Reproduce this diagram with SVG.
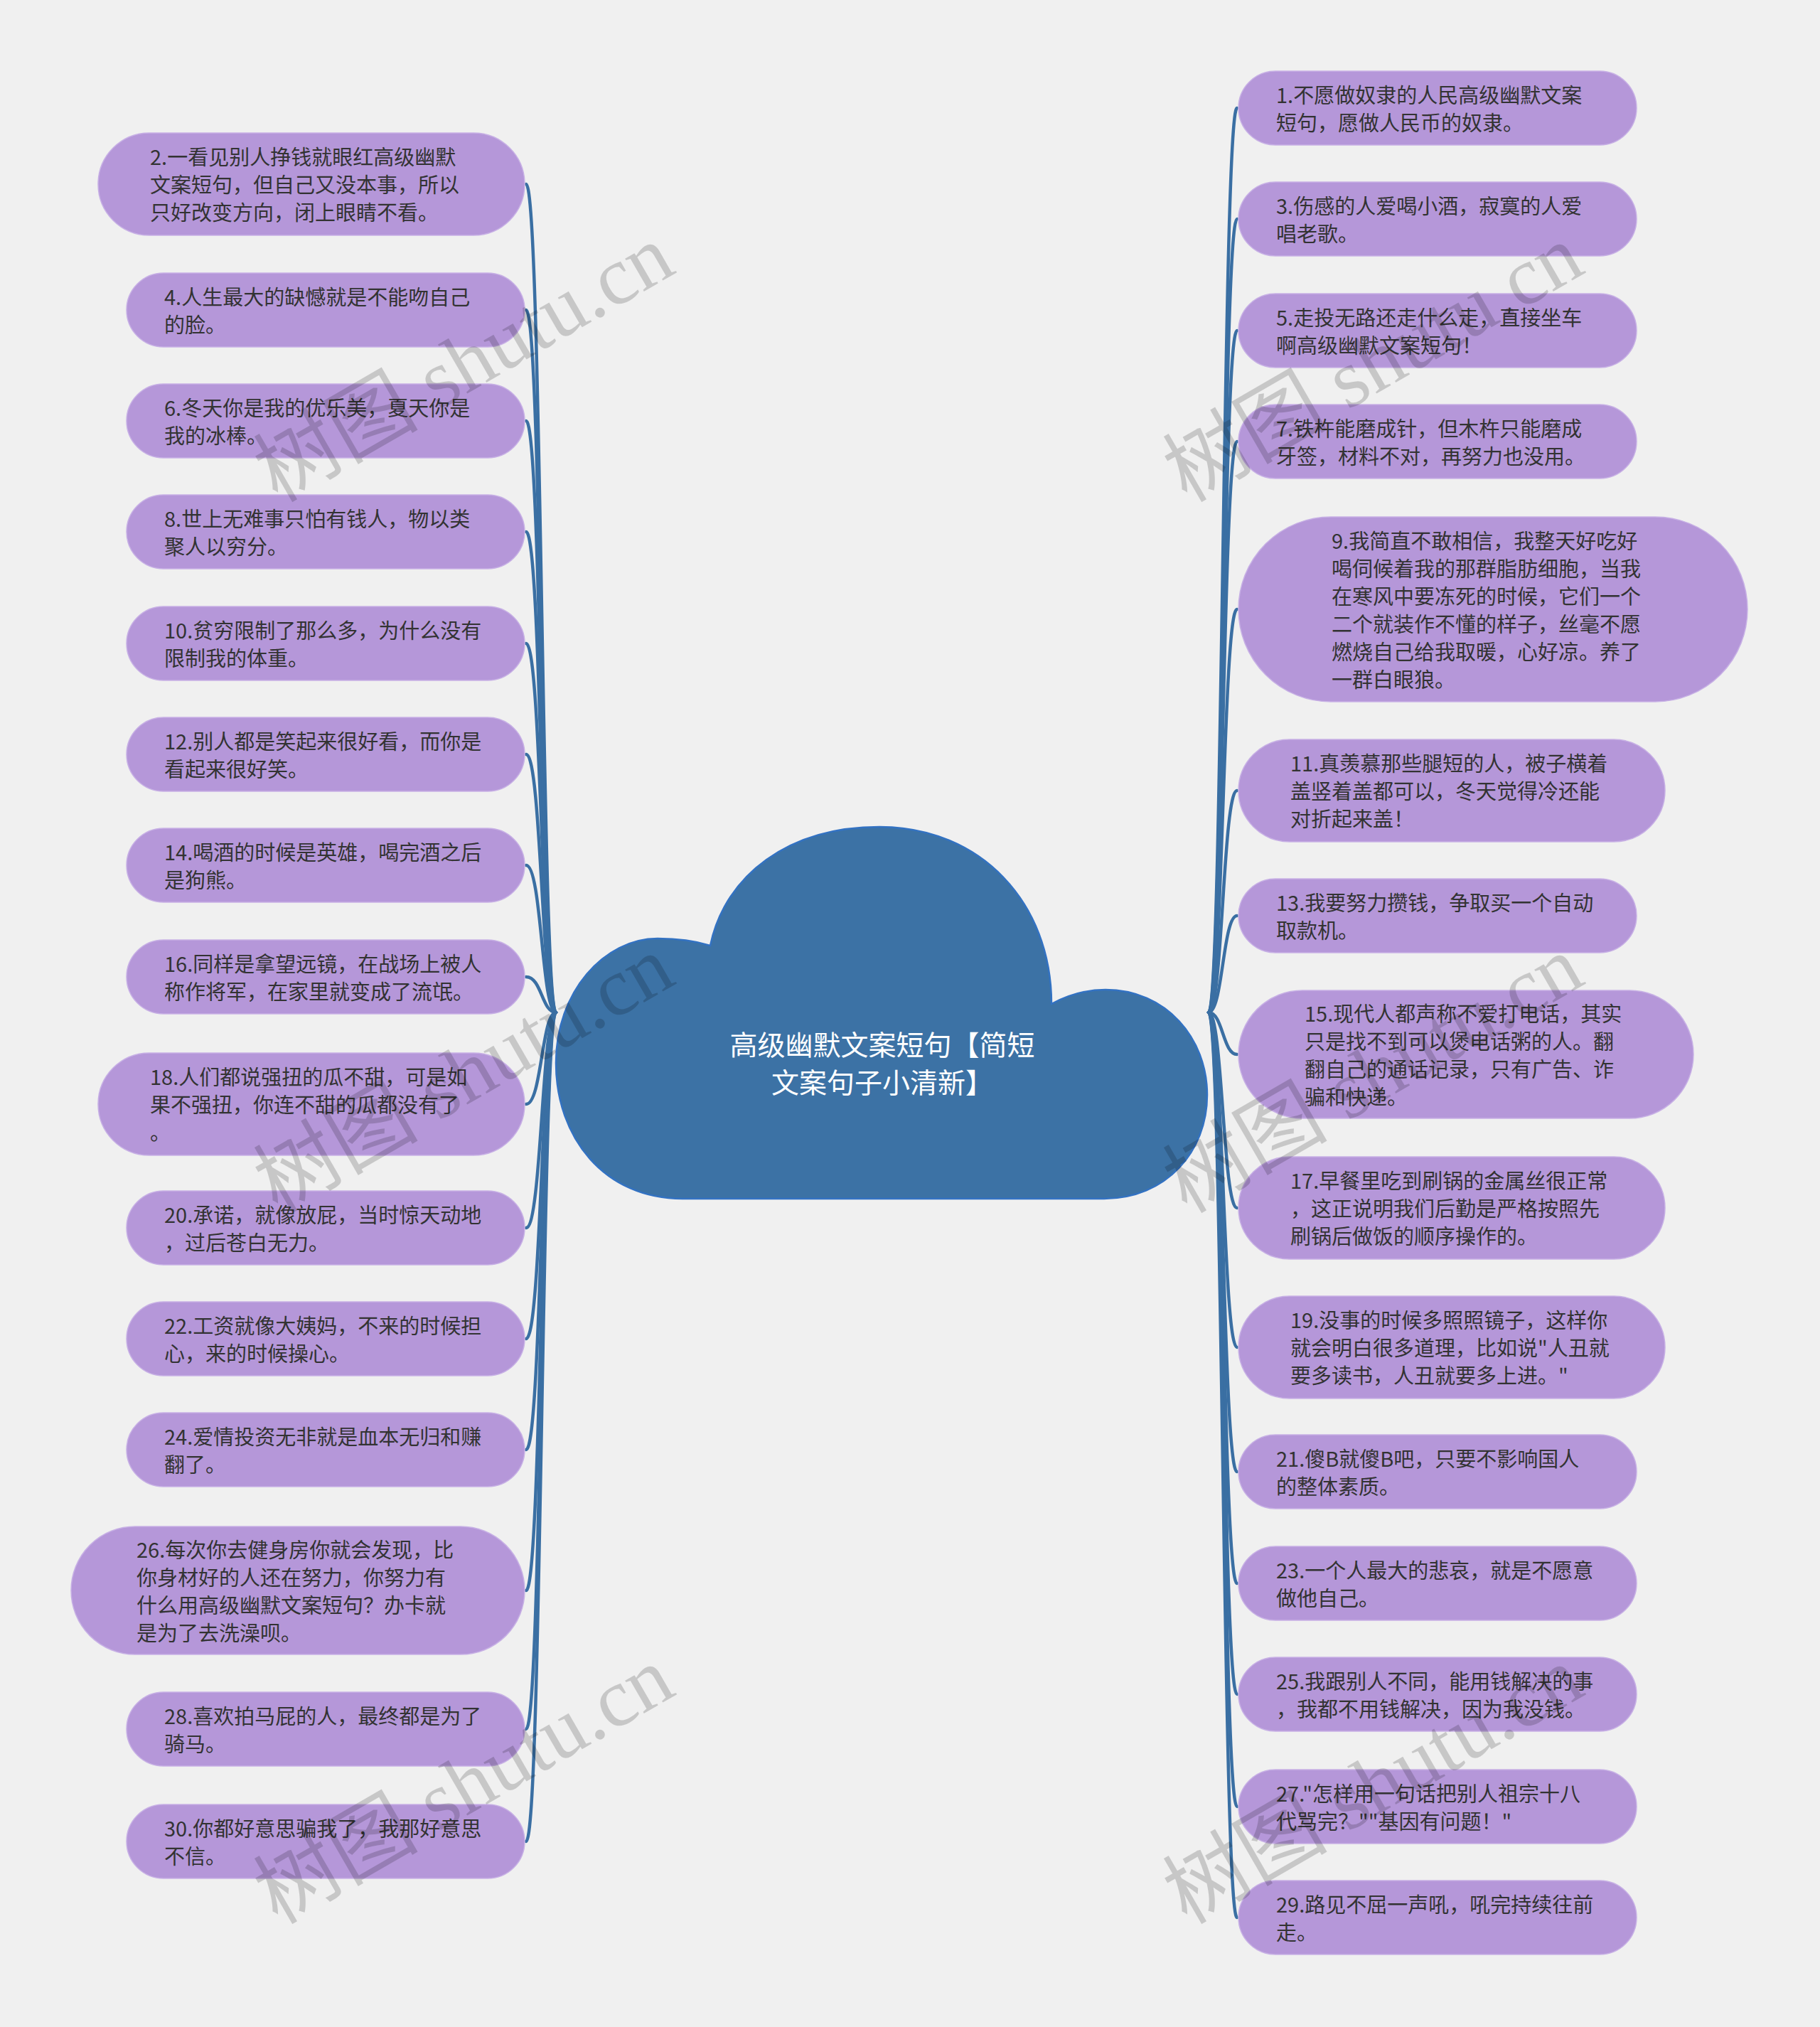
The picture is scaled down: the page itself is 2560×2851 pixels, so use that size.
<svg xmlns="http://www.w3.org/2000/svg" width="2560" height="2851" viewBox="0 0 2560 2851">
<style>
.bg{fill:#f0f0f0}
.n{fill:#b597d9;stroke:#c7b0e5;stroke-width:1.5}
.t{font-family:"Noto Sans CJK SC","Noto Sans",sans-serif;font-size:29px;fill:#333333;dominant-baseline:central}
.c{fill:none;stroke:#3a6fa3;stroke-width:4.5;stroke-linecap:round}
.root{fill:#3c72a5;stroke:#3372c2;stroke-width:2.5}
.rt{font-family:"Noto Sans CJK SC","Noto Sans",sans-serif;font-size:39px;fill:#ffffff;text-anchor:middle;dominant-baseline:central}
.wm{font-family:"Liberation Serif","Noto Sans CJK SC",serif;font-size:116px;fill:#000000;fill-opacity:0.17;text-anchor:middle}
</style>
<rect class="bg" x="0" y="0" width="2560" height="2851"/>
<g id="connectors">
<path class="c" d="M782 1424 C762 1424 762 259 740 259"/>
<path class="c" d="M782 1424 C762 1424 762 436 740 436"/>
<path class="c" d="M782 1424 C762 1424 762 592 740 592"/>
<path class="c" d="M782 1424 C762 1424 762 748 740 748"/>
<path class="c" d="M782 1424 C762 1424 762 905 740 905"/>
<path class="c" d="M782 1424 C762 1424 762 1061 740 1061"/>
<path class="c" d="M782 1424 C762 1424 762 1217 740 1217"/>
<path class="c" d="M782 1424 C762 1424 762 1374 740 1374"/>
<path class="c" d="M782 1424 C762 1424 762 1553 740 1553"/>
<path class="c" d="M782 1424 C762 1424 762 1727 740 1727"/>
<path class="c" d="M782 1424 C762 1424 762 1883 740 1883"/>
<path class="c" d="M782 1424 C762 1424 762 2039 740 2039"/>
<path class="c" d="M782 1424 C762 1424 762 2237 740 2237"/>
<path class="c" d="M782 1424 C762 1424 762 2432 740 2432"/>
<path class="c" d="M782 1424 C762 1424 762 2590 740 2590"/>
<path class="c" d="M1700 1424 C1720 1424 1720 152 1740 152"/>
<path class="c" d="M1700 1424 C1720 1424 1720 308 1740 308"/>
<path class="c" d="M1700 1424 C1720 1424 1720 465 1740 465"/>
<path class="c" d="M1700 1424 C1720 1424 1720 621 1740 621"/>
<path class="c" d="M1700 1424 C1720 1424 1720 857 1740 857"/>
<path class="c" d="M1700 1424 C1720 1424 1720 1112 1740 1112"/>
<path class="c" d="M1700 1424 C1720 1424 1720 1288 1740 1288"/>
<path class="c" d="M1700 1424 C1720 1424 1720 1483 1740 1483"/>
<path class="c" d="M1700 1424 C1720 1424 1720 1699 1740 1699"/>
<path class="c" d="M1700 1424 C1720 1424 1720 1895 1740 1895"/>
<path class="c" d="M1700 1424 C1720 1424 1720 2070 1740 2070"/>
<path class="c" d="M1700 1424 C1720 1424 1720 2227 1740 2227"/>
<path class="c" d="M1700 1424 C1720 1424 1720 2383 1740 2383"/>
<path class="c" d="M1700 1424 C1720 1424 1720 2541 1740 2541"/>
<path class="c" d="M1700 1424 C1720 1424 1720 2697 1740 2697"/>
</g>
<g id="root">
<path class="root" d="M960 1686 C850 1686 782 1600 782 1495 C782 1395 850 1320 925 1320 C955 1320 980 1324 999 1330 C1020 1230 1110 1163 1237 1163 C1380 1163 1479 1270 1479 1412 C1505 1398 1530 1392 1555 1392 C1640 1392 1698 1460 1698 1540 C1698 1620 1640 1686 1553 1686 Z"/>
<text class="rt" x="1241" y="1467">高级幽默文案短句【简短</text>
<text class="rt" x="1241" y="1520">文案句子小清新】</text>
</g>
<g id="n2"><rect class="n" x="138" y="187" width="600" height="144" rx="72"/><text class="t"><tspan x="211" y="219">2.一看见别人挣钱就眼红高级幽默</tspan><tspan x="211" y="258">文案短句，但自己又没本事，所以</tspan><tspan x="211" y="297">只好改变方向，闭上眼睛不看。</tspan></text></g>
<g id="n4"><rect class="n" x="178" y="384" width="560" height="104" rx="52"/><text class="t"><tspan x="231" y="415.5">4.人生最大的缺憾就是不能吻自己</tspan><tspan x="231" y="454.5">的脸。</tspan></text></g>
<g id="n6"><rect class="n" x="178" y="540" width="560" height="104" rx="52"/><text class="t"><tspan x="231" y="571.5">6.冬天你是我的优乐美，夏天你是</tspan><tspan x="231" y="610.5">我的冰棒。</tspan></text></g>
<g id="n8"><rect class="n" x="178" y="696" width="560" height="104" rx="52"/><text class="t"><tspan x="231" y="727.5">8.世上无难事只怕有钱人，物以类</tspan><tspan x="231" y="766.5">聚人以穷分。</tspan></text></g>
<g id="n10"><rect class="n" x="178" y="853" width="560" height="104" rx="52"/><text class="t"><tspan x="231" y="884.5">10.贫穷限制了那么多，为什么没有</tspan><tspan x="231" y="923.5">限制我的体重。</tspan></text></g>
<g id="n12"><rect class="n" x="178" y="1009" width="560" height="104" rx="52"/><text class="t"><tspan x="231" y="1040.5">12.别人都是笑起来很好看，而你是</tspan><tspan x="231" y="1079.5">看起来很好笑。</tspan></text></g>
<g id="n14"><rect class="n" x="178" y="1165" width="560" height="104" rx="52"/><text class="t"><tspan x="231" y="1196.5">14.喝酒的时候是英雄，喝完酒之后</tspan><tspan x="231" y="1235.5">是狗熊。</tspan></text></g>
<g id="n16"><rect class="n" x="178" y="1322" width="560" height="104" rx="52"/><text class="t"><tspan x="231" y="1353.5">16.同样是拿望远镜，在战场上被人</tspan><tspan x="231" y="1392.5">称作将军，在家里就变成了流氓。</tspan></text></g>
<g id="n18"><rect class="n" x="138" y="1481" width="600" height="144" rx="72"/><text class="t"><tspan x="211" y="1513">18.人们都说强扭的瓜不甜，可是如</tspan><tspan x="211" y="1552">果不强扭，你连不甜的瓜都没有了</tspan><tspan x="211" y="1591">。</tspan></text></g>
<g id="n20"><rect class="n" x="178" y="1675" width="560" height="104" rx="52"/><text class="t"><tspan x="231" y="1706.5">20.承诺，就像放屁，当时惊天动地</tspan><tspan x="231" y="1745.5">，过后苍白无力。</tspan></text></g>
<g id="n22"><rect class="n" x="178" y="1831" width="560" height="104" rx="52"/><text class="t"><tspan x="231" y="1862.5">22.工资就像大姨妈，不来的时候担</tspan><tspan x="231" y="1901.5">心，来的时候操心。</tspan></text></g>
<g id="n24"><rect class="n" x="178" y="1987" width="560" height="104" rx="52"/><text class="t"><tspan x="231" y="2018.5">24.爱情投资无非就是血本无归和赚</tspan><tspan x="231" y="2057.5">翻了。</tspan></text></g>
<g id="n26"><rect class="n" x="100" y="2147" width="638" height="180" rx="90"/><text class="t"><tspan x="192" y="2177.5">26.每次你去健身房你就会发现，比</tspan><tspan x="192" y="2216.5">你身材好的人还在努力，你努力有</tspan><tspan x="192" y="2255.5">什么用高级幽默文案短句？办卡就</tspan><tspan x="192" y="2294.5">是为了去洗澡呗。</tspan></text></g>
<g id="n28"><rect class="n" x="178" y="2380" width="560" height="104" rx="52"/><text class="t"><tspan x="231" y="2411.5">28.喜欢拍马屁的人，最终都是为了</tspan><tspan x="231" y="2450.5">骑马。</tspan></text></g>
<g id="n30"><rect class="n" x="178" y="2538" width="560" height="104" rx="52"/><text class="t"><tspan x="231" y="2569.5">30.你都好意思骗我了，我那好意思</tspan><tspan x="231" y="2608.5">不信。</tspan></text></g>
<g id="n1"><rect class="n" x="1742" y="100" width="560" height="104" rx="52"/><text class="t"><tspan x="1795" y="131.5">1.不愿做奴隶的人民高级幽默文案</tspan><tspan x="1795" y="170.5">短句，愿做人民币的奴隶。</tspan></text></g>
<g id="n3"><rect class="n" x="1742" y="256" width="560" height="104" rx="52"/><text class="t"><tspan x="1795" y="287.5">3.伤感的人爱喝小酒，寂寞的人爱</tspan><tspan x="1795" y="326.5">唱老歌。</tspan></text></g>
<g id="n5"><rect class="n" x="1742" y="413" width="560" height="104" rx="52"/><text class="t"><tspan x="1795" y="444.5">5.走投无路还走什么走，直接坐车</tspan><tspan x="1795" y="483.5">啊高级幽默文案短句！</tspan></text></g>
<g id="n7"><rect class="n" x="1742" y="569" width="560" height="104" rx="52"/><text class="t"><tspan x="1795" y="600.5">7.铁杵能磨成针，但木杵只能磨成</tspan><tspan x="1795" y="639.5">牙签，材料不对，再努力也没用。</tspan></text></g>
<g id="n9"><rect class="n" x="1742" y="727" width="716" height="260" rx="130"/><text class="t"><tspan x="1873" y="758.5">9.我简直不敢相信，我整天好吃好</tspan><tspan x="1873" y="797.5">喝伺候着我的那群脂肪细胞，当我</tspan><tspan x="1873" y="836.5">在寒风中要冻死的时候，它们一个</tspan><tspan x="1873" y="875.5">二个就装作不懂的样子，丝毫不愿</tspan><tspan x="1873" y="914.5">燃烧自己给我取暖，心好凉。养了</tspan><tspan x="1873" y="953.5">一群白眼狼。</tspan></text></g>
<g id="n11"><rect class="n" x="1742" y="1040" width="600" height="144" rx="72"/><text class="t"><tspan x="1815" y="1072">11.真羡慕那些腿短的人，被子横着</tspan><tspan x="1815" y="1111">盖竖着盖都可以，冬天觉得冷还能</tspan><tspan x="1815" y="1150">对折起来盖！</tspan></text></g>
<g id="n13"><rect class="n" x="1742" y="1236" width="560" height="104" rx="52"/><text class="t"><tspan x="1795" y="1267.5">13.我要努力攒钱，争取买一个自动</tspan><tspan x="1795" y="1306.5">取款机。</tspan></text></g>
<g id="n15"><rect class="n" x="1742" y="1393" width="640" height="180" rx="90"/><text class="t"><tspan x="1835" y="1423.5">15.现代人都声称不爱打电话，其实</tspan><tspan x="1835" y="1462.5">只是找不到可以煲电话粥的人。翻</tspan><tspan x="1835" y="1501.5">翻自己的通话记录，只有广告、诈</tspan><tspan x="1835" y="1540.5">骗和快递。</tspan></text></g>
<g id="n17"><rect class="n" x="1742" y="1627" width="600" height="144" rx="72"/><text class="t"><tspan x="1815" y="1659">17.早餐里吃到刷锅的金属丝很正常</tspan><tspan x="1815" y="1698">，这正说明我们后勤是严格按照先</tspan><tspan x="1815" y="1737">刷锅后做饭的顺序操作的。</tspan></text></g>
<g id="n19"><rect class="n" x="1742" y="1823" width="600" height="144" rx="72"/><text class="t"><tspan x="1815" y="1855">19.没事的时候多照照镜子，这样你</tspan><tspan x="1815" y="1894">就会明白很多道理，比如说"人丑就</tspan><tspan x="1815" y="1933">要多读书，人丑就要多上进。"</tspan></text></g>
<g id="n21"><rect class="n" x="1742" y="2018" width="560" height="104" rx="52"/><text class="t"><tspan x="1795" y="2049.5">21.傻B就傻B吧，只要不影响国人</tspan><tspan x="1795" y="2088.5">的整体素质。</tspan></text></g>
<g id="n23"><rect class="n" x="1742" y="2175" width="560" height="104" rx="52"/><text class="t"><tspan x="1795" y="2206.5">23.一个人最大的悲哀，就是不愿意</tspan><tspan x="1795" y="2245.5">做他自己。</tspan></text></g>
<g id="n25"><rect class="n" x="1742" y="2331" width="560" height="104" rx="52"/><text class="t"><tspan x="1795" y="2362.5">25.我跟别人不同，能用钱解决的事</tspan><tspan x="1795" y="2401.5">，我都不用钱解决，因为我没钱。</tspan></text></g>
<g id="n27"><rect class="n" x="1742" y="2489" width="560" height="104" rx="52"/><text class="t"><tspan x="1795" y="2520.5">27."怎样用一句话把别人祖宗十八</tspan><tspan x="1795" y="2559.5">代骂完？""基因有问题！"</tspan></text></g>
<g id="n29"><rect class="n" x="1742" y="2645" width="560" height="104" rx="52"/><text class="t"><tspan x="1795" y="2676.5">29.路见不屈一声吼，吼完持续往前</tspan><tspan x="1795" y="2715.5">走。</tspan></text></g>
<g id="watermarks">
<text class="wm" transform="translate(672 545) rotate(-30)">树图 shutu.cn</text>
<text class="wm" transform="translate(1951 545) rotate(-30)">树图 shutu.cn</text>
<text class="wm" transform="translate(672 1545) rotate(-30)">树图 shutu.cn</text>
<text class="wm" transform="translate(1951 1545) rotate(-30)">树图 shutu.cn</text>
<text class="wm" transform="translate(672 2545) rotate(-30)">树图 shutu.cn</text>
<text class="wm" transform="translate(1951 2545) rotate(-30)">树图 shutu.cn</text>
</g>
</svg>
